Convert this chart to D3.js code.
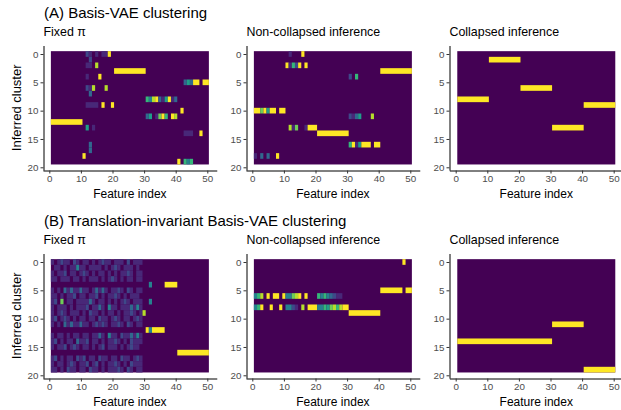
<!DOCTYPE html>
<html><head><meta charset="utf-8">
<script src="https://cdn.jsdelivr.net/npm/d3@7"></script>
<style>
body{margin:0;background:#fff}
svg text{font-family:"Liberation Sans",Arial,Helvetica,sans-serif}
</style>
</head><body>
<svg id="chart" width="621" height="410"></svg>
<script>
// ---------------- data ----------------
const rowTitles = ["(A) Basis-VAE clustering", "(B) Translation-invariant Basis-VAE clustering"];
const panelTitles = ["Fixed π", "Non-collapsed inference", "Collapsed inference"];
const xLabel = "Feature index";
const yLabel = "Inferred cluster";
const xTicks = [0, 10, 20, 30, 40, 50];
const yTicks = [0, 5, 10, 15, 20];
// each string = one inferred cluster (0..19, top to bottom); each digit = features 1..50, value = digit/9
const basisFixed = [
 "0000000000 0210101190 0000000000 0000000000 0000000000",
 "0000000000 0020000000 0000000000 0000000000 0000000000",
 "0000000000 0110800000 0000000000 0000000000 0000000000",
 "0000000000 0000000000 9999999999 0000000000 0000000000",
 "0000000000 0100090000 0000000000 0000000000 0000000000",
 "0000000000 0000000000 0000000000 0000000000 0035399099",
 "0000000000 0218000800 0000000000 0000000000 0000000000",
 "0000000000 0030000000 0000000000 0000000000 0000000000",
 "0000000000 0000000000 0000000000 6489315913 0000000000",
 "0000000000 0111109009 0000000000 0000000000 0000000000",
 "0000000000 0000000000 0000000000 0000000000 0900000000",
 "0000000000 0000000000 0000000000 3501796098 0000000000",
 "9999999999 0000000000 0000000000 0000000000 0000000000",
 "0000000000 0501000000 0000000000 0000000000 0000000000",
 "0000000000 0000000000 0000000000 0000000000 0011100900",
 "0000000000 0000000000 0000000000 0000000000 0000000000",
 "0000000000 0030000000 0000000000 0000000000 0000000000",
 "0000000000 0030000000 0000000000 0000000000 0000000000",
 "0000000000 9000000000 0000000000 0000000000 0000000000",
 "0000000000 0000000000 0000000000 0000000000 9064600000"
];
const basisNonCollapsed = [
 "0000000000 0100090000 0000000000 0000000000 0000000000",
 "0000000000 0000000000 0000000000 0000000000 0000000000",
 "0000000000 9162909000 0000000000 0000000000 0000000000",
 "0000000000 0000000000 0000000000 0000000000 9999999999",
 "0000000000 0000000000 0000000000 2060000000 0000000000",
 "0000000000 0000000000 0000000000 0000000000 0000000000",
 "0000000000 0000000000 0000000000 0000000000 0000000000",
 "0000000000 0000000000 0000000000 0000000000 0000000000",
 "0000000000 0000000000 0000000000 0000000000 0000000000",
 "0000000000 0000000000 0000000000 0000000000 0000000000",
 "9979599099 0000000000 0000000000 0000000000 0000000000",
 "0000000000 0000000000 0000000000 2135000800 0000000000",
 "0000000000 0000000000 0000000000 0000000000 0000000000",
 "0000000000 0817001999 0000000000 0000000000 0000000000",
 "0000000000 0000000000 9999999999 0000000000 0000000000",
 "0000000000 0000000000 0000000000 0000000000 0000000000",
 "0000000000 0000000000 0000000000 6915999099 0000000000",
 "0000000000 0000000000 0000000000 0000000000 0000000000",
 "1030300900 0000000000 0000000000 0000000000 0000000000",
 "0000000000 0000000000 0000000000 0000000000 0000000000"
];
const basisCollapsed = [
 "0000000000 0000000000 0000000000 0000000000 0000000000",
 "0000000000 9999999999 0000000000 0000000000 0000000000",
 "0000000000 0000000000 0000000000 0000000000 0000000000",
 "0000000000 0000000000 0000000000 0000000000 0000000000",
 "0000000000 0000000000 0000000000 0000000000 0000000000",
 "0000000000 0000000000 0000000000 0000000000 0000000000",
 "0000000000 0000000000 9999999999 0000000000 0000000000",
 "0000000000 0000000000 0000000000 0000000000 0000000000",
 "9999999999 0000000000 0000000000 0000000000 0000000000",
 "0000000000 0000000000 0000000000 0000000000 9999999999",
 "0000000000 0000000000 0000000000 0000000000 0000000000",
 "0000000000 0000000000 0000000000 0000000000 0000000000",
 "0000000000 0000000000 0000000000 0000000000 0000000000",
 "0000000000 0000000000 0000000000 9999999999 0000000000",
 "0000000000 0000000000 0000000000 0000000000 0000000000",
 "0000000000 0000000000 0000000000 0000000000 0000000000",
 "0000000000 0000000000 0000000000 0000000000 0000000000",
 "0000000000 0000000000 0000000000 0000000000 0000000000",
 "0000000000 0000000000 0000000000 0000000000 0000000000",
 "0000000000 0000000000 0000000000 0000000000 0000000000"
];
const tiFixed = [
 "1012110210 1101012110 1110201110 0000000000 0000000000",
 "0110101141 1011110101 2101110100 0000000000 0000000000",
 "1011201101 2101011010 1011210110 0000000000 0000000000",
 "1101110110 1011101012 1010110110 0000000000 0000000000",
 "0000000000 0000000000 0000000000 0400009999 0000000000",
 "1010313113 1101313101 1210210110 0000000000 0000000000",
 "1101011201 1011201011 2101011100 0000000000 0000000000",
 "1207011011 1131011010 1012101110 0400000000 0000000000",
 "1011101011 1201131041 1011131410 0000000000 0000000000",
 "1012101110 1021101011 0101121018 0000000000 0000000000",
 "1201210101 1011021101 2101101210 0000000000 0000000000",
 "1010313113 1101212101 1210210110 0000000000 0000000000",
 "0000000000 0000000000 0000000000 9499990000 0000000000",
 "1011010110 1101131041 1021131410 0000000000 0000000000",
 "1201011031 1201101011 2101021110 0000000000 0000000000",
 "1011201210 1101012011 1010121100 0000000000 0000000000",
 "0000000000 0000000000 0000000000 0000000000 9999999999",
 "1201011021 2011021101 1021101210 0000000000 0000000000",
 "1011012101 1201201011 2101021110 0000000000 0000000000",
 "1101021101 1021101011 1210210110 0000000000 0000000000"
];
const tiNonCollapsed = [
 "0000000000 0000000000 0000000000 0000000000 0000000900",
 "0000000000 0000000000 0000000000 0000000000 0000000000",
 "0000000000 0000000000 0000000000 0000000000 0000000000",
 "0000000000 0000000000 0000000000 0000000000 0000000000",
 "0000000000 0000000000 0000000000 0000000000 0000000000",
 "0000000000 0000000000 0000000000 0000000000 9999999099",
 "4680909909 4478909000 6464321100 0000000000 0000000000",
 "0000000000 0000000000 0000000000 0000000000 0000000000",
 "4690090090 4421080999 4465786899 0000000000 0000000000",
 "0000000000 0000000000 0000000000 9999999999 0000000000",
 "0000000000 0000000000 0000000000 0000000000 0000000000",
 "0000000000 0000000000 0000000000 0000000000 0000000000",
 "0000000000 0000000000 0000000000 0000000000 0000000000",
 "0000000000 0000000000 0000000000 0000000000 0000000000",
 "0000000000 0000000000 0000000000 0000000000 0000000000",
 "0000000000 0000000000 0000000000 0000000000 0000000000",
 "0000000000 0000000000 0000000000 0000000000 0000000000",
 "0000000000 0000000000 0000000000 0000000000 0000000000",
 "0000000000 0000000000 0000000000 0000000000 0000000000",
 "0000000000 0000000000 0000000000 0000000000 0000000000"
];
const tiCollapsed = [
 "0000000000 0000000000 0000000000 0000000000 0000000000",
 "0000000000 0000000000 0000000000 0000000000 0000000000",
 "0000000000 0000000000 0000000000 0000000000 0000000000",
 "0000000000 0000000000 0000000000 0000000000 0000000000",
 "0000000000 0000000000 0000000000 0000000000 0000000000",
 "0000000000 0000000000 0000000000 0000000000 0000000000",
 "0000000000 0000000000 0000000000 0000000000 0000000000",
 "0000000000 0000000000 0000000000 0000000000 0000000000",
 "0000000000 0000000000 0000000000 0000000000 0000000000",
 "0000000000 0000000000 0000000000 0000000000 0000000000",
 "0000000000 0000000000 0000000000 0000000000 0000000000",
 "0000000000 0000000000 0000000000 9999999999 0000000000",
 "0000000000 0000000000 0000000000 0000000000 0000000000",
 "0000000000 0000000000 0000000000 0000000000 0000000000",
 "9999999999 9999999999 9999999999 0000000000 0000000000",
 "0000000000 0000000000 0000000000 0000000000 0000000000",
 "0000000000 0000000000 0000000000 0000000000 0000000000",
 "0000000000 0000000000 0000000000 0000000000 0000000000",
 "0000000000 0000000000 0000000000 0000000000 0000000000",
 "0000000000 0000000000 0000000000 0000000000 9999999999"
];

// ---------------- layout ----------------
const panels = [[basisFixed, basisNonCollapsed, basisCollapsed], [tiFixed, tiNonCollapsed, tiCollapsed]];
const colX0 = [49.3, 252.3, 455.7];   // pixel of feature 0
const rowY0 = [54, 262];              // pixel of cluster 0
const kx = 3.16, ky = 5.665;
const titleY = [18, 225.5], subY = [36, 243.5];

const parse = rows => rows.map(s => s.replace(/ /g, "").split("").map(c => +c / 9));
const svg = d3.select("#chart");
const color = d3.interpolateViridis;

panels.forEach((row, ri) => {
  svg.append("text").attr("x", 44).attr("y", titleY[ri])
     .attr("font-size", 15).attr("fill", "#000").text(rowTitles[ri]);
  row.forEach((raw, pi) => {
    const data = parse(raw);
    const x0 = colX0[pi], y0 = rowY0[ri];
    const xs = d3.scaleLinear().domain([-2, 53]).range([x0 - 2 * kx, x0 + 53 * kx]);
    const ys = d3.scaleLinear().domain([-1.5, 20.5]).range([y0 - 1.5 * ky, y0 + 20.5 * ky]);
    const g = svg.append("g");
    g.append("rect").attr("x", xs(0.5)).attr("y", ys(-0.5))
      .attr("width", xs(50.5) - xs(0.5)).attr("height", ys(19.5) - ys(-0.5))
      .attr("fill", color(0));
    const runs = [];
    data.forEach((vals, r) => {
      let j = 0;
      while (j < vals.length) {
        let k = j;
        while (k + 1 < vals.length && vals[k + 1] === vals[j]) k++;
        if (vals[j] > 0) runs.push({ r, a: j + 1, b: k + 1, v: vals[j] });
        j = k + 1;
      }
    });
    g.selectAll("rect.cell").data(runs).join("rect").attr("class", "cell")
      .attr("x", d => xs(d.a - 0.5)).attr("width", d => xs(d.b + 0.5) - xs(d.a - 0.5))
      .attr("y", d => ys(d.r - 0.5)).attr("height", d => ys(d.r + 0.5) - ys(d.r - 0.5))
      .attr("fill", d => color(d.v));

    const axX = Math.round(xs(-2)) + 0.5, axY = Math.round(ys(20.5)) + 0.5;
    const yAxis = d3.axisLeft(ys).tickValues(yTicks).tickSize(3).tickPadding(2).tickSizeOuter(0);
    const xAxis = d3.axisBottom(xs).tickValues(xTicks).tickSize(3).tickPadding(2).tickSizeOuter(0);
    const gy = svg.append("g").attr("transform", `translate(${axX},0)`).call(yAxis);
    const gx = svg.append("g").attr("transform", `translate(0,${axY})`).call(xAxis);
    [gx, gy].forEach(a => {
      a.attr("font-family", null).attr("font-size", 9.8);
      a.select(".domain").attr("stroke", "#000").attr("stroke-width", 1);
      a.selectAll(".tick line").attr("stroke", "#333").attr("stroke-width", 1);
      a.selectAll(".tick text").attr("fill", "#4d4d4d");
    });
    svg.append("text").attr("x", (xs(-2) + xs(53)) / 2).attr("y", axY + 27)
      .attr("text-anchor", "middle").attr("font-size", 12).text(xLabel);
    svg.append("text").attr("x", axX).attr("y", subY[ri])
      .attr("font-size", 12.4).text(panelTitles[pi]);
    if (pi === 0) {
      const cy = (ys(-1.5) + ys(20.5)) / 2;
      svg.append("text").attr("transform", `translate(21,${cy}) rotate(-90)`)
        .attr("text-anchor", "middle").attr("font-size", 13).text(yLabel);
    }
  });
});
</script>
</body></html>
